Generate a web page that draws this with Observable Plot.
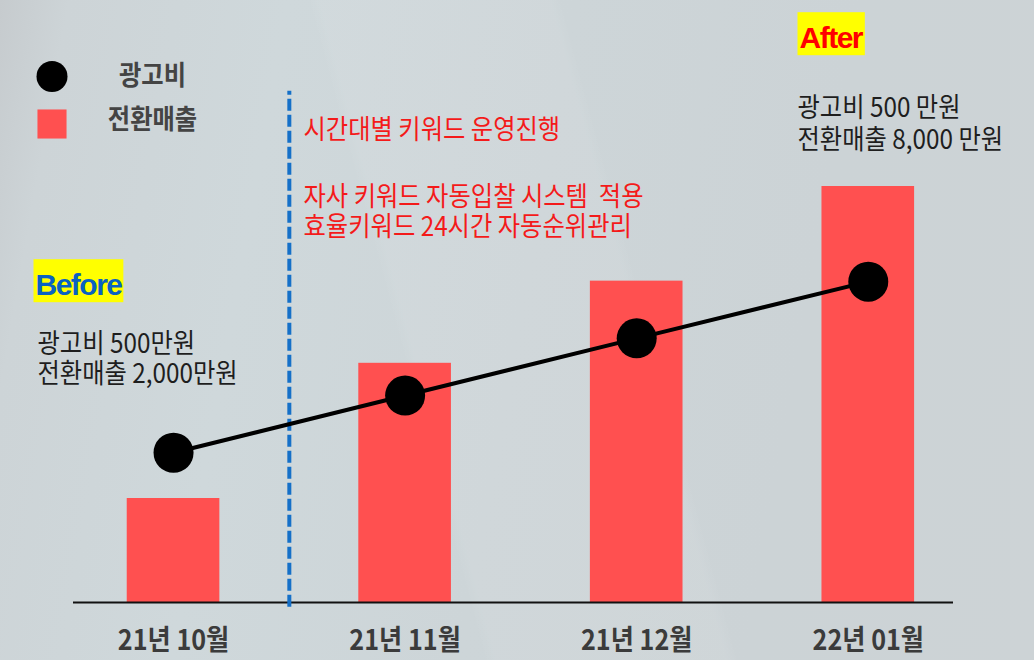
<!DOCTYPE html>
<html>
<head>
<meta charset="utf-8">
<script src="https://cdn.jsdelivr.net/npm/d3@7"></script>
<script src="https://cdn.jsdelivr.net/npm/@observablehq/plot@0.6"></script>
<style>
  html, body { margin: 0; padding: 0; }
  body {
    width: 1034px; height: 660px; overflow: hidden;
    background:
      linear-gradient(75deg, rgba(255,255,255,0) 0%, rgba(255,255,255,0) 40%, rgba(255,255,255,0.06) 41%, rgba(255,255,255,0.06) 60%, rgba(255,255,255,0) 61%),
      linear-gradient(100deg, #c6cbce 0%, #cdd4d7 6%, #cfd8db 25%, #cdd5d8 50%, #ccd3d6 75%, #cdd3d6 100%);
  }
  #chart svg { display: block; }
  #chart text { white-space: pre; }
</style>
</head>
<body>
<div id="chart"></div>
<script>
// ---- data ----
const months = ["21년 10월", "21년 11월", "21년 12월", "22년 01월"];
const sales = [2000, 4600, 6180, 8000];          // 전환매출 (bars)
const adTrend = [2880, 3980, 5080, 6170];        // 광고비 trend line (same y units)
const legendLabels = ["광고비", "전환매출"];
const beforeTag = "Before";
const afterTag = "After";
const beforeLines = ["광고비 500만원", "전환매출 2,000만원"];
const afterLines = ["광고비 500 만원", "전환매출 8,000 만원"];
const strategyLine1 = ["시간대별 키워드 운영진행"];
const strategyLines2 = ["자사 키워드 자동입찰 시스템  적용", "효율키워드 24시간 자동순위관리"];

const table = months.map((m, i) => ({month: m, sales: sales[i], ad: adTrend[i]}));

// ---- layout ----
const W = 1034, H = 660, mL = 73, mR = 81, mT = 82, mB = 58;
const xOpts = {type: "band", domain: months, paddingInner: 0.6, paddingOuter: 0.2, align: 0.58, round: false};
const xs = Plot.scale({x: {...xOpts, range: [mL, W - mR]}});
const step = xs.step ?? ((W - mR - mL) / (months.length - 0.6 + 0.4));

const KR = "'Noto Sans CJK KR', 'Noto Sans', sans-serif";
const EN = "'Liberation Sans', Arial, sans-serif";
const at = (px, py) => ({frameAnchor: "top-left", dx: px - mL, dy: py - mT});

const plot = Plot.plot({
  width: W, height: H,
  marginLeft: mL, marginRight: mR, marginTop: mT, marginBottom: mB,
  style: {background: "transparent", fontFamily: KR, overflow: "visible"},
  x: xOpts,
  y: {domain: [0, 10000], axis: null},
  marks: [
    Plot.barY(table, {x: "month", y: "sales", fill: "#ff5050"}),
    Plot.ruleY([0], {stroke: "#111", strokeWidth: 2}),
    Plot.ruleX([months[1]], {dx: -step / 2, y1: -90, y2: 9830, stroke: "#1570c8", strokeWidth: 4, strokeDasharray: "12,4"}),
    Plot.line(table, {x: "month", y: "ad", stroke: "#000", strokeWidth: 4}),
    Plot.dot(table, {x: "month", y: "ad", r: 20, fill: "#000"}),
    Plot.axisX({tickSize: 0, tickPadding: 28, fontSize: 28, fontWeight: "bold", fill: "#3b3b3b", label: null}),

    // legend
    Plot.dot([0], {...at(51.5, 76), r: 15.5, fill: "#000"}),
    Plot.dot([0], {...at(51.5, 123.5), symbol: "square", r: 16.4, fill: "#ff5050"}),
    Plot.text([legendLabels[0]], {...at(152, 75.6), text: d => d, textAnchor: "middle", lineAnchor: "middle", fontSize: 27, fontWeight: "bold", fill: "#444"}),
    Plot.text([legendLabels[1]], {...at(152, 119.6), text: d => d, textAnchor: "middle", lineAnchor: "middle", fontSize: 27, fontWeight: "bold", fill: "#444"}),

    // before / after tags
    Plot.text([beforeTag], {...at(35, 273.4), text: d => d, textAnchor: "start", lineAnchor: "top", fontSize: 30, fontWeight: "bold", fontFamily: EN, fill: "#0a62c2", ariaDescription: "box"}),
    Plot.text([afterTag], {...at(799, 26.4), text: d => d, textAnchor: "start", lineAnchor: "top", fontSize: 30, fontWeight: "bold", fontFamily: EN, fill: "#ff0000", ariaDescription: "box"}),

    // notes
    Plot.text([beforeLines.join("\n")], {...at(37, 331), text: d => d, textAnchor: "start", lineAnchor: "top", fontSize: 27, lineHeight: 1.11, fill: "#1e1e1e"}),
    Plot.text([afterLines.join("\n")], {...at(797, 94), text: d => d, textAnchor: "start", lineAnchor: "top", fontSize: 27, lineHeight: 1.19, fill: "#1e1e1e"}),
    Plot.text([strategyLine1.join("\n")], {...at(303, 119), text: d => d, textAnchor: "start", lineAnchor: "top", fontSize: 27, fill: "#f41a1a"}),
    Plot.text([strategyLines2.join("\n")], {...at(303, 184), text: d => d, textAnchor: "start", lineAnchor: "top", fontSize: 27, lineHeight: 1.11, fill: "#f41a1a"})
  ]
});

document.getElementById("chart").appendChild(plot);

// condense Korean text horizontally (reference font is narrower)
const NS = "http://www.w3.org/2000/svg";
plot.querySelectorAll("text").forEach(t => {
  const g = t.closest("g");
  const isBox = g && g.getAttribute("aria-description") === "box";
  const tr = t.getAttribute("transform") || "";
  if (isBox) {
    t.setAttribute("letter-spacing", "-1.5");
    const bb2 = t.getBBox();
    const r = document.createElementNS(NS, "rect");
    r.setAttribute("x", bb2.x - 2);
    r.setAttribute("y", bb2.y - 9);
    r.setAttribute("width", bb2.width + 3);
    r.setAttribute("height", bb2.height + 10);
    r.setAttribute("fill", "#ffff00");
    if (tr) r.setAttribute("transform", tr);
    t.parentNode.insertBefore(r, t);
    return;
  }
  const bb = t.getBBox();
  const anchor = getComputedStyle(t).textAnchor;
  const p = anchor === "middle" ? bb.x + bb.width / 2 : anchor === "end" ? bb.x + bb.width : bb.x;
  t.setAttribute("transform", `${tr} translate(${p},0) scale(0.9,1) translate(${-p},0)`);
});
</script>
</body>
</html>
